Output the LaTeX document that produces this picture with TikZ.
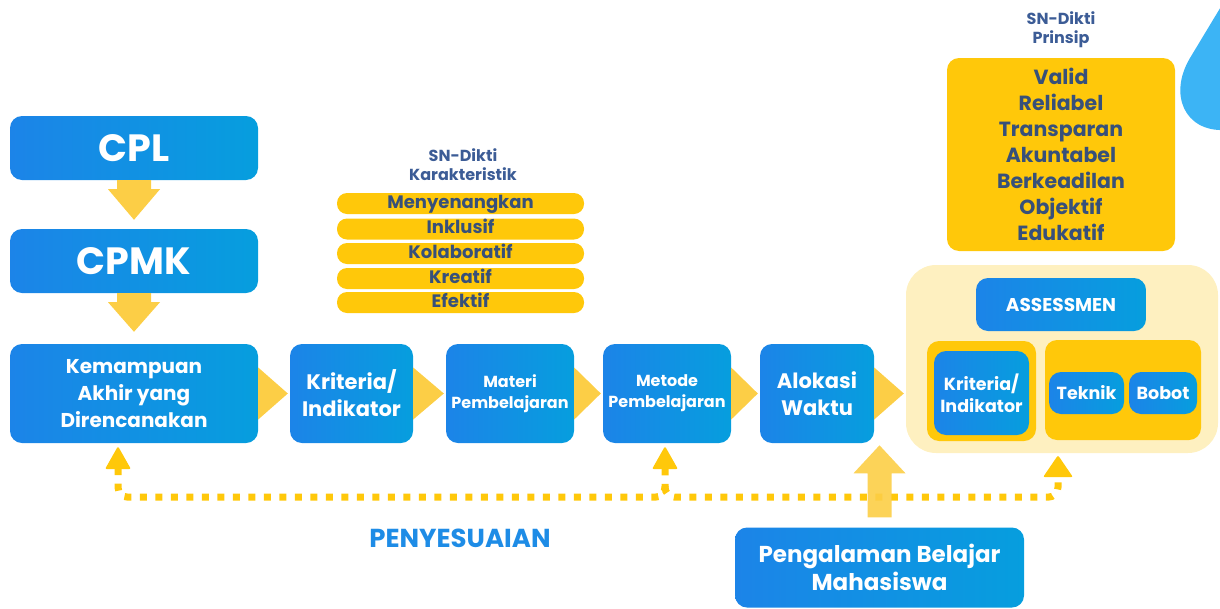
\documentclass[tikz,border=0pt]{standalone}
\usepackage{fontspec}
\setmainfont{Poppins}
\usetikzlibrary{calc}
\definecolor{bL}{RGB}{28,132,232}
\definecolor{bR}{RGB}{6,158,222}
\definecolor{gold}{RGB}{255,200,10}
\definecolor{arr}{RGB}{252,206,70}
\definecolor{cream}{RGB}{254,240,192}
\definecolor{ink}{RGB}{55,80,122}
\definecolor{snlab}{RGB}{60,92,150}
\definecolor{drop}{RGB}{60,180,245}
\definecolor{peny}{RGB}{30,140,230}
\tikzset{
  bluebox/.style={rounded corners=12pt, left color=bL, right color=bR, text=white, align=center, inner sep=0pt, font=\bfseries},
  goldbox/.style={rounded corners=12pt, fill=gold, inner sep=0pt},
  bar/.style={rounded corners=10pt, fill=gold, inner sep=0pt, minimum width=247pt, minimum height=21pt, text height=12.5pt, text depth=3pt, text=ink, font=\bfseries\fontsize{18}{20}\selectfont},
  snlabel/.style={align=center, text=snlab, font=\bfseries\fontsize{16}{19}\selectfont},
  dotline/.style={draw=gold, line width=7pt, dash pattern=on 7pt off 8.5pt, rounded corners=10pt},
  rowtxt/.style={font=\bfseries\fontsize{21}{27}\selectfont},
  smalltxt/.style={font=\bfseries\fontsize{16}{21}\selectfont},
}
\begin{document}
\begin{tikzpicture}[x=1pt,y=-1pt]
\useasboundingbox (0,0) rectangle (1220,608);
% blue drop top right
\fill[drop] (1228,-5) -- (1190,58) .. controls (1168,95) and (1185,132) .. (1225,130) -- cycle;
% left column
\node[bluebox, minimum width=248pt, minimum height=64pt, font=\bfseries\fontsize{38}{40}\selectfont] (cpl) at (134,148) {CPL};
\node[bluebox, minimum width=248pt, minimum height=64pt, font=\bfseries\fontsize{38}{40}\selectfont] (cpmk) at (134,261) {CPMK};
\node[bluebox, minimum width=248pt, minimum height=99pt, font=\bfseries\fontsize{20}{27}\selectfont] (kem) at (134,393.5) {Kemampuan\\Akhir yang\\Direncanakan};
% row
\node[bluebox, minimum width=123pt, minimum height=99pt, rowtxt] (krit) at (351.5,393.5) {Kriteria/\\Indikator};
\node[bluebox, minimum width=128pt, minimum height=99pt, smalltxt] (materi) at (510,393.5) {Materi\\Pembelajaran};
\node[bluebox, minimum width=128pt, minimum height=99pt, smalltxt] (metode) at (667,393.5) {Metode\\Pembelajaran};
\node[bluebox, minimum width=114pt, minimum height=99pt, rowtxt] (alokasi) at (817,393.5) {Alokasi\\Waktu};
% assessment region
\node[fill=cream, rounded corners=30pt, minimum width=312pt, minimum height=188pt, inner sep=0pt] (region) at (1062,359) {};
\node[bluebox, minimum width=170pt, minimum height=53pt, font=\bfseries\fontsize{18.5}{20}\selectfont] (assess) at (1061,304.5) {ASSESSMEN};
\node[goldbox, minimum width=109pt, minimum height=100pt] (yl) at (981.5,391) {};
\node[goldbox, minimum width=156pt, minimum height=100pt] (yr) at (1123,390) {};
\node[bluebox, minimum width=95pt, minimum height=84pt, font=\bfseries\fontsize{17.5}{22}\selectfont] (ikrit) at (981.5,393) {Kriteria/\\Indikator};
\node[bluebox, minimum width=75pt, minimum height=42pt, font=\bfseries\fontsize{17.5}{20}\selectfont] (teknik) at (1086.5,393) {Teknik};
\node[bluebox, minimum width=68pt, minimum height=42pt, font=\bfseries\fontsize{17.5}{20}\selectfont] (bobot) at (1163,393) {Bobot};
% prinsip
\node[snlabel] (snp) at (1061,29.5) {SN-Dikti\\Prinsip};
\node[goldbox, minimum width=228pt, minimum height=193pt, align=center, text=ink, font=\bfseries\fontsize{20.5}{26}\selectfont] (prinsip) at (1061,154.5) {Valid\\Reliabel\\Transparan\\Akuntabel\\Berkeadilan\\Objektif\\Edukatif};
% karakteristik
\node[snlabel] (snk) at (463,164.5) {SN-Dikti\\Karakteristik};
\node[bar] (k1) at (460.5,203.5) {Menyenangkan};
\node[bar] (k2) at (460.5,229) {Inklusif};
\node[bar] (k3) at (460.5,253.5) {Kolaboratif};
\node[bar] (k4) at (460.5,278.5) {Kreatif};
\node[bar] (k5) at (460.5,302.5) {Efektif};
% bottom
\node[text=peny, font=\bfseries\fontsize{26}{28}\selectfont] (peny) at (460,538) {PENYESUAIAN};
\node[bluebox, minimum width=289pt, minimum height=80pt, font=\bfseries\fontsize{23}{28}\selectfont] (peng) at (879.5,567.5) {Pengalaman Belajar\\Mahasiswa};
% down arrows
\fill[arr] ($(cpl.south)+(-17,0)$) -- ($(cpl.south)+(17,0)$) -- ($(cpl.south)+(17,9)$) -- ($(cpl.south)+(26,9)$) -- ($(cpmk.north)+(0,-9)$) -- ($(cpl.south)+(-26,9)$) -- ($(cpl.south)+(-17,9)$) -- cycle;
\fill[arr] ($(cpmk.south)+(-17,0)$) -- ($(cpmk.south)+(17,0)$) -- ($(cpmk.south)+(17,9)$) -- ($(cpmk.south)+(26,9)$) -- ($(kem.north)+(0,-12)$) -- ($(cpmk.south)+(-26,9)$) -- ($(cpmk.south)+(-17,9)$) -- cycle;
% right chevrons
\coordinate (rin) at (region.west |- alokasi.east);
\foreach \a/\b in {kem.east/krit.west, krit.east/materi.west, materi.east/metode.west, metode.east/alokasi.west, alokasi.east/rin}{
  \fill[arr] ($(\a)+(0,-26)$) -- ($(\b)+(-2,0)$) -- ($(\a)+(0,26)$) -- cycle;
}
% dotted feedback line
\draw[dotline] ($(kem.south)+(-16,25)$) -- ($(kem.south)+(-16,54)$) -- ($(metode.south)+(-2,54)$) -- ($(metode.south)+(-2,25)$);
\draw[dotline] ($(metode.south)+(-2,43)$) -- ($(metode.south)+(-2,54)$) -- ($(region.south)+(-4,44)$) -- ($(region.south)+(-4,24)$);
% arrowheads
\fill[gold, rounded corners=2pt] ($(kem.south)+(-16,3)$) -- ($(kem.south)+(-3,26)$) -- ($(kem.south)+(-29,26)$) -- cycle;
\fill[gold, rounded corners=2pt] ($(metode.south)+(-2,3)$) -- ($(metode.south)+(11,26)$) -- ($(metode.south)+(-15,26)$) -- cycle;
\fill[gold, rounded corners=2pt] ($(region.south)+(-4,2)$) -- ($(region.south)+(11,24)$) -- ($(region.south)+(-19,24)$) -- cycle;
% big up arrow
\fill[arr, opacity=0.9] ($(peng.north)+(-12,-10)$) -- ($(peng.north)+(-12,-54)$) -- ($(peng.north)+(-26,-54)$) -- ($(peng.north)+(0,-82)$) -- ($(peng.north)+(26,-54)$) -- ($(peng.north)+(12,-54)$) -- ($(peng.north)+(12,-10)$) -- cycle;
\end{tikzpicture}
\end{document}
